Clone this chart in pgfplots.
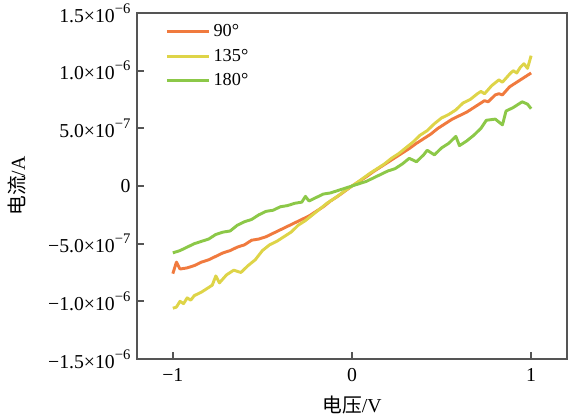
\documentclass[border=0pt]{standalone}
\usepackage{fontspec}
\setmainfont{Liberation Serif}
\newfontfamily\cjk{Noto Sans CJK SC}
\usepackage{pgfplots}
\pgfplotsset{compat=1.18}
\definecolor{c90}{RGB}{240,122,62}
\definecolor{c135}{RGB}{222,212,72}
\definecolor{c180}{RGB}{140,200,72}
\definecolor{axc}{RGB}{85,85,85}
\newcommand{\ex}[1]{\raisebox{0.45em}{\fontsize{10}{10}\selectfont #1}}
\begin{document}
\fontsize{13}{15}\selectfont
\begin{tikzpicture}
\begin{axis}[
 name=ax,
 scale only axis, width=294pt, height=236.6pt,
 xmin=-1.2, xmax=1.2, ymin=-1.5, ymax=1.5,
 xtick={-1,0,1}, xticklabels={−1,0,1},
 ytick={-1.5,-1,-0.5,0,0.5,1,1.5},
 yticklabels={−1.5×10\ex{−6},−1.0×10\ex{−6},−5.0×10\ex{−7},0,5.0×10\ex{−7},1.0×10\ex{−6},1.5×10\ex{−6}},
 ticklabel style={font=\fontsize{13.5}{15}\selectfont},
 xticklabel style={yshift=-2pt},
 tick align=inside, tick pos=left,
 axis line style={axc, line width=1.2pt},
 major tick length=5pt, tick style={axc, line width=1.2pt},
 xlabel={{\cjk 电压}/V}, ylabel={{\cjk 电流}/A},
 label style={font=\fontsize{13.5}{15}\selectfont},
 ylabel style={yshift=6pt},
 xlabel style={yshift=-0.5pt},
 legend style={at={(0.055,0.985)}, anchor=north west, draw=none, fill=white, row sep=2.5pt, font=\fontsize{12.5}{14}\selectfont},
 legend cell align=left,
 legend image code/.code={\draw[#1, line width=2pt] (0pt,0pt) -- (29pt,0pt);},
 every axis plot/.append style={line width=2pt, line join=round},
]
\addplot[c90] coordinates {
(-1.00,-0.76) (-0.98,-0.66) (-0.96,-0.72) (-0.92,-0.71) (-0.88,-0.69) (-0.84,-0.66)
(-0.80,-0.64) (-0.76,-0.61) (-0.72,-0.58) (-0.68,-0.56) (-0.64,-0.53) (-0.60,-0.51)
(-0.56,-0.47) (-0.52,-0.46) (-0.48,-0.44) (-0.44,-0.41) (-0.40,-0.38) (-0.36,-0.35)
(-0.32,-0.32) (-0.28,-0.29) (-0.24,-0.26) (-0.20,-0.22) (-0.16,-0.18) (-0.12,-0.13)
(-0.08,-0.09) (-0.04,-0.045) (0.00,0.00) (0.04,0.04) (0.08,0.08) (0.12,0.125)
(0.16,0.165) (0.20,0.205) (0.24,0.245) (0.28,0.285) (0.32,0.325) (0.36,0.37)
(0.40,0.41) (0.44,0.45) (0.48,0.50) (0.52,0.54) (0.56,0.58) (0.60,0.61)
(0.64,0.64) (0.68,0.68) (0.72,0.72) (0.74,0.74) (0.76,0.73) (0.80,0.79)
(0.82,0.80) (0.84,0.79) (0.88,0.86) (0.92,0.90) (0.96,0.94) (1.00,0.98)
};
\addlegendentry{90°}
\addplot[c135] coordinates {
(-1.00,-1.06) (-0.98,-1.05) (-0.96,-1.00) (-0.94,-1.02) (-0.92,-0.97) (-0.90,-0.99)
(-0.88,-0.95) (-0.84,-0.92) (-0.80,-0.88) (-0.78,-0.86) (-0.76,-0.78) (-0.74,-0.84)
(-0.70,-0.77) (-0.66,-0.73) (-0.62,-0.75) (-0.58,-0.69) (-0.54,-0.64) (-0.50,-0.56)
(-0.46,-0.51) (-0.42,-0.48) (-0.38,-0.44) (-0.34,-0.40) (-0.30,-0.34) (-0.26,-0.30)
(-0.22,-0.25) (-0.18,-0.20) (-0.14,-0.15) (-0.10,-0.11) (-0.06,-0.065) (-0.02,-0.02)
(0.02,0.02) (0.06,0.065) (0.10,0.11) (0.14,0.15) (0.18,0.19) (0.22,0.24)
(0.26,0.28) (0.30,0.33) (0.34,0.38) (0.38,0.44) (0.42,0.48) (0.46,0.54)
(0.50,0.59) (0.54,0.62) (0.58,0.66) (0.62,0.72) (0.66,0.75) (0.70,0.80)
(0.72,0.82) (0.74,0.80) (0.78,0.87) (0.82,0.92) (0.84,0.90) (0.88,0.97)
(0.90,1.00) (0.92,0.98) (0.94,1.03) (0.96,1.06) (0.98,1.02) (1.00,1.13)
};
\addlegendentry{135°}
\addplot[c180] coordinates {
(-1.00,-0.58) (-0.96,-0.56) (-0.92,-0.53) (-0.88,-0.50) (-0.84,-0.48) (-0.80,-0.46)
(-0.76,-0.42) (-0.72,-0.40) (-0.68,-0.39) (-0.64,-0.34) (-0.60,-0.31) (-0.56,-0.29)
(-0.52,-0.25) (-0.48,-0.22) (-0.44,-0.21) (-0.40,-0.18) (-0.36,-0.17) (-0.32,-0.15)
(-0.28,-0.14) (-0.26,-0.09) (-0.24,-0.13) (-0.20,-0.10) (-0.16,-0.07) (-0.12,-0.06)
(-0.08,-0.04) (-0.04,-0.02) (0.00,0.00) (0.04,0.02) (0.08,0.04) (0.12,0.07)
(0.16,0.10) (0.20,0.13) (0.24,0.15) (0.28,0.19) (0.32,0.24) (0.36,0.21)
(0.40,0.27) (0.42,0.31) (0.46,0.27) (0.50,0.33) (0.54,0.37) (0.58,0.43)
(0.60,0.35) (0.64,0.39) (0.68,0.44) (0.72,0.50) (0.75,0.57) (0.80,0.58)
(0.84,0.53) (0.86,0.65) (0.90,0.68) (0.95,0.73) (0.98,0.71) (1.00,0.67)
};
\addlegendentry{180°}
\end{axis}
\pgfresetboundingbox
\path ([shift={(-93.7pt,-40.3pt)}]ax.south west) rectangle ([shift={(6.2pt,8.9pt)}]ax.north east);
\end{tikzpicture}
\end{document}
